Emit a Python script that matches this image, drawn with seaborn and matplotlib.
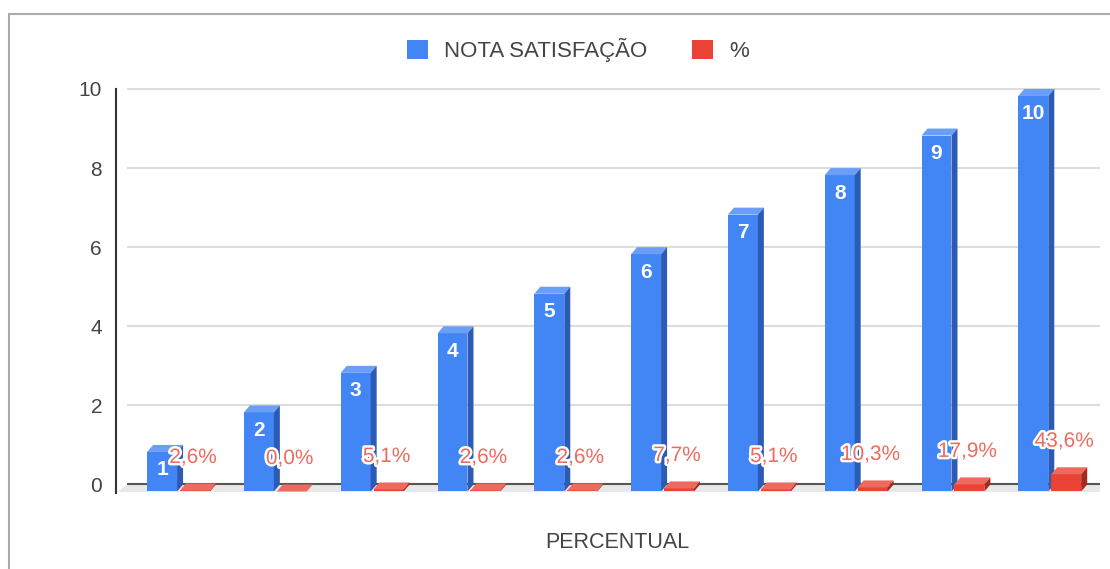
import pandas as pd
import seaborn as sns
import matplotlib.pyplot as plt
import matplotlib.patheffects as pe
from matplotlib.patches import Polygon, Patch
from matplotlib.lines import Line2D
from matplotlib.transforms import Affine2D

# dados
categorias = ["1", "2", "3", "4", "5", "6", "7", "8", "9", "10"]
nota = [1, 2, 3, 4, 5, 6, 7, 8, 9, 10]
percentual = [0.026, 0.0, 0.051, 0.026, 0.026, 0.077, 0.051, 0.103, 0.179, 0.436]
rotulos_pct = ["2,6%", "0,0%", "5,1%", "2,6%", "2,6%", "7,7%", "5,1%", "10,3%", "17,9%", "43,6%"]
series = ["NOTA SATISFAÇÃO", "%"]

df = pd.DataFrame({
    "cat": categorias * 2,
    "valor": nota + percentual,
    "serie": [series[0]] * len(nota) + [series[1]] * len(percentual),
})

sns.set_style("white")
plt.rcParams["font.family"] = ["Liberation Sans", "DejaVu Sans"]

AZUL, VERM = "#4285F4", "#EA4335"
faces = {
    AZUL: ("#6B9FF7", "#2C5BB5"),   # topo, lateral
    VERM: ("#EF6A5E", "#A52A1E"),
}

W, H = 1110, 569
fig = plt.figure(figsize=(W / 100, H / 100), dpi=100)
axL, axR, axT, axB = 116, 1100, 80, 493
ax = fig.add_axes([axL / W, 1 - axB / H, (axR - axL) / W, (axB - axT) / H])

sns.barplot(data=df, x="cat", y="valor", hue="serie", palette=[AZUL, VERM],
            width=0.68, gap=0.09, saturation=1, legend=False, ax=ax, zorder=3)

ax.set_xlim(-0.708, 9.457)
ax.set_ylim(-0.215, 10.227)
ax.set_xticks([])
ax.set_yticks([0, 2, 4, 6, 8, 10])
ax.tick_params(axis="y", length=0, pad=10, labelsize=15, labelcolor="#444444")
ax.set_xlabel("")
ax.set_ylabel("")
for s in ["top", "right", "bottom"]:
    ax.spines[s].set_visible(False)
ax.spines["left"].set_bounds(-0.215, 10)
ax.spines["left"].set_color("#333333")
ax.spines["left"].set_linewidth(1.5)

# grade e chão (parede de fundo)
ax.hlines([2, 4, 6, 8, 10], 11 / 984, 1, transform=ax.get_yaxis_transform(),
          color="#dddddd", lw=1.5, zorder=1)
ax.hlines([0], 11 / 984, 1, transform=ax.get_yaxis_transform(),
          color="#555555", lw=1.5, zorder=2)

dx, dy = 6, 7  # profundidade 3D em pixels
tr = ax.transData
inv = tr.inverted()
x0d, y0d = tr.transform((ax.get_xlim()[0], 0))
x1d, _ = tr.transform((ax.get_xlim()[1], 0))
chao = inv.transform([(x0d + 11, y0d), (x1d, y0d), (x1d, y0d - dy - 1), (x0d + 2, y0d - dy - 1)])
ax.add_patch(Polygon(chao, closed=True, facecolor="#e8e8e8", edgecolor="none", zorder=1.5))

barras = list(ax.patches)[:2 * len(nota)]
for i, p in enumerate(barras):
    cor = AZUL if i < len(nota) else VERM
    topo, lado = faces[cor]
    x, w, h = p.get_x(), p.get_width(), p.get_height()
    z = 3 if cor == AZUL else 4
    p.set_zorder(z)
    p.set_edgecolor("none")
    p.set_transform(tr + Affine2D().translate(-dx, -dy))
    bl = tr.transform((x, 0))
    br = tr.transform((x + w, 0))
    tl = tr.transform((x, h))
    trr = tr.transform((x + w, h))
    top = [(tl[0] - dx, tl[1] - dy), (trr[0] - dx, trr[1] - dy), tuple(trr), tuple(tl)]
    side = [(br[0] - dx, br[1] - dy), tuple(br), tuple(trr), (trr[0] - dx, trr[1] - dy)]
    ax.add_patch(Polygon(inv.transform(top), closed=True, facecolor=topo, edgecolor="none", zorder=z))
    ax.add_patch(Polygon(inv.transform(side), closed=True, facecolor=lado, edgecolor="none", zorder=z))
    cx = x + w / 2
    if cor == AZUL:
        ax.annotate(categorias[i], (cx, h), xytext=(-dx, -25), textcoords="offset pixels",
                    ha="center", va="center", color="white", fontsize=15,
                    fontweight="bold", zorder=6)
    else:
        ax.annotate(rotulos_pct[i - len(nota)], (cx, h), xytext=(-8, 26),
                    textcoords="offset pixels", ha="center", va="center",
                    color="#EE6A5E", fontsize=15, zorder=7,
                    path_effects=[pe.withStroke(linewidth=3.5, foreground="white")])

fig.text(617 / W, 1 - 543 / H, "PERCENTUAL", ha="center", va="center",
         fontsize=15.5, color="#444444")

handles = [Patch(facecolor=AZUL, edgecolor="none"), Patch(facecolor=VERM, edgecolor="none")]
fig.legend(handles, series, loc="center", bbox_to_anchor=(578 / W, 1 - 50 / H), ncol=2,
           frameon=False, fontsize=16, labelcolor="#444444", handlelength=0.95,
           handleheight=0.95, handletextpad=0.75, columnspacing=2.0)

# moldura cinza da captura
fig.add_artist(Line2D([9 / W, 9 / W], [0, 1 - 14 / H], color="#aaaaaa", lw=1.5))
fig.add_artist(Line2D([9 / W, 1], [1 - 14 / H, 1 - 14 / H], color="#aaaaaa", lw=1.5))

fig.savefig("out.png", dpi=100)
